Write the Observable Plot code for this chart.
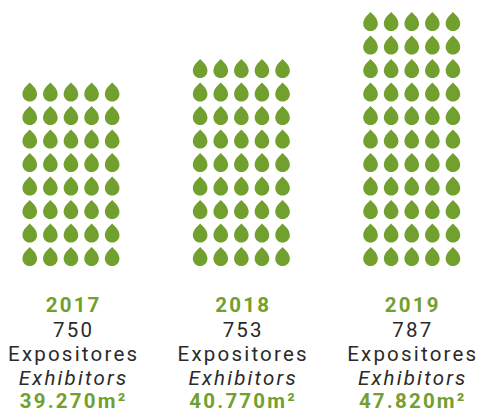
<!DOCTYPE html>
<html><head><meta charset="utf-8">
<style>html,body{margin:0;padding:0;background:#fff}svg{display:block}</style>
<script src="https://cdn.jsdelivr.net/npm/d3@7"></script>
<script src="https://cdn.jsdelivr.net/npm/@observablehq/plot@0.6"></script>
</head><body><div id="chart"></div>
<script>
const years = ["2017","2018","2019"];
const rowCounts = [8,9,11];
const exhibitors = ["750","753","787"];
const areas = ["39.270m²","40.770m²","47.820m²"];
const perRow = 5;
const labelPt = "Expositores";
const labelEn = "Exhibitors";

const GREEN = "#72a02f", DARK = "#2a2a2a";
const groupStep = 8.27;
const cells = [];
years.forEach((y,i)=>{
  for(let r=0;r<rowCounts[i];r++) for(let c=0;c<perRow;c++) cells.push({group:i,col:c,row:r});
});
const labels = years.map((y,i)=>({i,year:y,ex:exhibitors[i],area:areas[i]}));
const cx = d => d.i*8.23+2.13;

const drop = {draw(ctx,size){
  const r = Math.sqrt(size/Math.PI);
  const cy = r*0.32, tip = -r*1.3;
  ctx.moveTo(0,tip);
  ctx.bezierCurveTo(r*0.42,-r*0.88, r,-r*0.4, r,cy);
  ctx.bezierCurveTo(r,cy+r*0.56, r*0.56,cy+r, 0,cy+r);
  ctx.bezierCurveTo(-r*0.56,cy+r, -r,cy+r*0.56, -r,cy);
  ctx.bezierCurveTo(-r,-r*0.4, -r*0.42,-r*0.88, 0,tip);
  ctx.closePath();
}};

const txt = (field,dy,extra={}) => Plot.text(labels,{x:cx,y:0,text:field,dy,fontSize:20.5,fontFamily:"Roboto",textAnchor:"middle",lineAnchor:"middle",...extra});

const chart = Plot.plot({
  width:478,height:410,margin:0,
  style:{background:"#fff",letterSpacing:"2.2px"},
  x:{domain:[-1.42,21.78],axis:null},
  y:{domain:[-6.56,10.89],axis:null},
  marks:[
    Plot.dot(cells,{x:d=>d.group*groupStep+d.col,y:"row",symbol:drop,r:7.3,fill:GREEN,stroke:"none"}),
    txt("year",49,{fill:GREEN,fontWeight:700}),
    txt("ex",74,{fill:DARK}),
    txt(()=>labelPt,98,{fill:DARK}),
    txt(()=>labelEn,122,{fill:DARK,fontStyle:"italic"}),
    txt("area",145.5,{fill:GREEN,fontWeight:700})
  ]
});
document.getElementById("chart").append(chart);
</script></body></html>
